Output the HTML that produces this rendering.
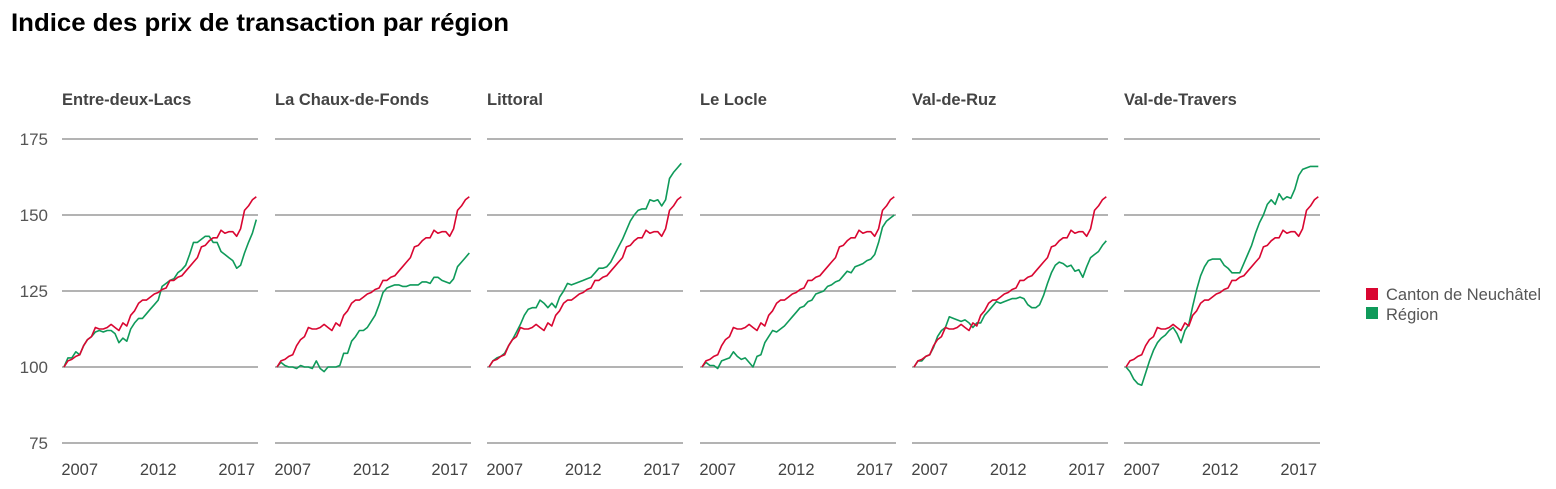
<!DOCTYPE html>
<html><head><meta charset="utf-8"><style>
html,body{margin:0;padding:0;background:#fff;width:1556px;height:489px;overflow:hidden}
svg{display:block;font-family:"Liberation Sans",sans-serif}
</style></head><body>
<svg id="chart" width="1556" height="489" viewBox="0 0 1556 489" xmlns="http://www.w3.org/2000/svg">
<text x="11" y="31" font-size="25" font-weight="bold" fill="#000" textLength="498" lengthAdjust="spacingAndGlyphs">Indice des prix de transaction par région</text>
<g id="yticks"></g>
<g id="panels"></g>
<g>
<g><rect x="1366" y="288" width="12" height="12" fill="#d90631"/><text x="1386" y="300" font-size="16.5" fill="#555">Canton de Neuchâtel</text></g>
<g><rect x="1366" y="307" width="12" height="12" fill="#0f9a5a"/><text x="1386" y="320" font-size="16.5" fill="#555">Région</text></g>
</g>
</svg>
<script>
const regions = ["Entre-deux-Lacs","La Chaux-de-Fonds","Littoral","Le Locle","Val-de-Ruz","Val-de-Travers"];
const yTicks = [75,100,125,150,175];
const xTickYears = [2007,2012,2017];
const startYear = 2006.0;
const quarterStep = 0.25;
const canton = [100,102,102.5,103.5,104,107,109,110,113,112.5,112.5,113,114,113,112,114.5,113.5,117,118.5,121,122,122,123,124,124.5,125.5,126,128.5,128.5,129.5,130,131.5,133,134.5,136,139.5,140,141.5,142.5,142.5,145,144,144.5,144.5,143,145.5,151.5,153,155,156];
const regEntreDeuxLacs = [100,103,103,105,104,107,109,110,111.5,112,111.5,112,112,111,108,109.5,108.5,112.5,114.5,116,116,117.5,119,120.5,122,126.5,127.5,128.5,129,131,132,133.5,137,141,141,142,143,143,141,141,138,137,136,135,132.5,133.5,137.5,141,144,148.5];
const regChauxDeFonds = [100,101.5,100.5,100,100,99.5,100.5,100,100,99.5,102,99.5,98.5,100,100,100,100.5,104.5,104.5,108.5,110,112,112,113,115,117,120.5,124.5,126,126.5,127,127,126.5,126.5,127,127,127,128,128,127.5,129.5,129.5,128.5,128,127.5,129,133,134.5,136,137.5];
const regLittoral = [100,102,103,103.5,104.5,107,109,111.5,114,117,119,119.5,119.5,122,121,119.5,121,119.5,123,125,127.5,127,127.5,128,128.5,129,129.5,131,132.5,132.5,133,134.5,137,139.5,142,145,148,150,151.5,152,152,155,154.5,155,153,155,162,164,165.5,167];
const regLeLocle = [100,101.5,100.5,100.5,99.5,102,102.5,103,105,103.5,102.5,103,101.5,100,103.5,104,108,110,112,111.5,112.5,113.5,115,116.5,118,119.5,120,121.5,122,124,124.5,125,126.5,127,128,128.5,130,131.5,131,133,133.5,134,135,135.5,137,141,146,148,149,150];
const regValDeRuz = [100,102,102,103.5,104,106.5,110,112,113,116.5,116,115.5,115,115.5,114.5,113,114.5,114.5,117,118.5,120,121.5,121,121.5,122,122.5,122.5,123,122.5,120.5,119.5,119.5,120.5,123.5,127.5,131,133.5,134.5,134,133,133.5,131.5,132,129.5,133,136,137,138,140,141.5];
const regValDeTravers = [100,98.5,96,94.5,94,98,102,105.5,108,109.5,110.5,112,113,111,108,112,114,120,125.5,130,133,135,135.5,135.5,135.5,133.5,132.5,131,131,131,134,137,140,144,147.5,150,153.5,155,153.5,157,155,156,155.5,158.5,163,165,165.5,166,166,166];
const regionSeries = [regEntreDeuxLacs,regChauxDeFonds,regLittoral,regLeLocle,regValDeRuz,regValDeTravers];

const NS="http://www.w3.org/2000/svg";
const panelLefts=[62,275,487,700,912,1124];
const panelW=196;
function yScale(v){return 367-(v-100)*76/25;}
function xScale(left,yr){return left+2+(yr-startYear)*15.7;}
function mk(tag,attrs,parent){const e=document.createElementNS(NS,tag);for(const k in attrs)e.setAttribute(k,attrs[k]);parent.appendChild(e);return e;}
const yg=document.getElementById('yticks');
yTicks.forEach(t=>{
  const tx=mk('text',{x:48,y:yScale(t)+6,'text-anchor':'end','font-size':17,fill:'#555'},yg);
  
  
  tx.textContent=t;
});
const pg=document.getElementById('panels');
regions.forEach((name,i)=>{
  const L=panelLefts[i];
  const g=mk('g',{},pg);
  
  
  const tt=mk('text',{x:L,y:105,'font-size':16.5,'font-weight':'bold',fill:'#444'},g);
  
  
  tt.textContent=name;
  yTicks.forEach(t=>{
    const ln=mk('line',{x1:L,x2:L+panelW,y1:yScale(t),y2:yScale(t),stroke:'#9a9a9a','stroke-width':1.6},g);
    
    
  });
  xTickYears.forEach(yr=>{
    const xt=mk('text',{x:xScale(L,yr),y:475,'text-anchor':'middle','font-size':16.5,fill:'#444'},g);
    
    
    xt.textContent=yr;
  });
  [[regionSeries[i],'#0f9a5a','region-line'],[canton,'#d90631','canton-line']].forEach(([arr,col,nm])=>{
    const pts=arr.map((v,k)=>xScale(L,startYear+k*quarterStep).toFixed(1)+','+yScale(v).toFixed(1)).join(' ');
    const pl=mk('polyline',{points:pts,fill:'none',stroke:col,'stroke-width':1.6,'stroke-linejoin':'round'},g);
    
    
  });
});
</script>
</body></html>
